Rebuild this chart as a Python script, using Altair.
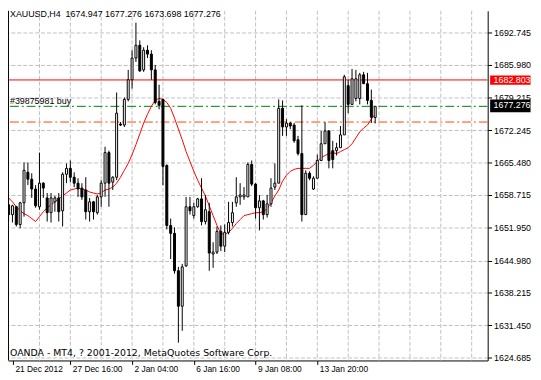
import altair as alt
import pandas as pd

# ---- data (XAUUSD H4 candles) ----
OPEN = [1656.66, 1654.60, 1656.25, 1652.54, 1657.07, 1663.46, 1662.02, 1659.96, 1656.25, 1661.19,
        1658.10, 1655.01, 1657.28, 1658.10, 1655.42, 1663.05, 1664.29, 1662.43, 1661.19, 1660.16,
        1659.75, 1655.21, 1657.28, 1655.01, 1658.31, 1661.19, 1667.59, 1661.40, 1662.43, 1673.57,
        1673.36, 1678.72, 1682.85, 1687.38, 1690.06, 1684.91, 1689.03, 1688.21, 1684.91, 1678.31,
        1678.72, 1664.91, 1652.33, 1650.68, 1642.85, 1635.42, 1643.87, 1656.25, 1654.39, 1656.25,
        1657.90, 1653.15, 1655.21, 1646.35, 1646.76, 1651.09, 1648.00, 1650.89, 1652.95, 1657.07,
        1658.31, 1658.31, 1658.31, 1665.11, 1660.99, 1656.04, 1657.48, 1654.60, 1656.86, 1660.37,
        1661.19, 1676.86, 1672.95, 1673.77, 1673.36, 1670.27, 1667.38, 1654.60, 1663.26, 1659.96,
        1662.22, 1665.94, 1669.44, 1672.12, 1668.00, 1668.00, 1668.62, 1671.30, 1681.61, 1677.69,
        1678.93, 1678.93, 1683.88, 1682.02, 1678.52, 1674.947]
HIGH = [1658.10, 1656.66, 1656.45, 1657.28, 1665.52, 1665.52, 1663.26, 1660.78, 1667.59, 1661.40,
        1659.13, 1659.13, 1658.51, 1659.13, 1663.46, 1665.31, 1665.94, 1663.46, 1662.22, 1661.19,
        1662.43, 1658.10, 1657.48, 1658.72, 1661.81, 1668.82, 1668.00, 1662.64, 1680.17, 1673.98,
        1679.13, 1684.91, 1689.03, 1694.81, 1691.09, 1689.65, 1690.06, 1689.03, 1685.94, 1681.81,
        1678.93, 1665.11, 1653.77, 1651.92, 1643.67, 1644.29, 1658.31, 1658.31, 1657.07, 1658.10,
        1662.22, 1658.72, 1657.07, 1648.82, 1652.12, 1652.33, 1652.54, 1657.28, 1657.28, 1662.43,
        1661.19, 1660.37, 1665.52, 1665.94, 1661.20, 1658.72, 1657.69, 1658.72, 1662.22, 1665.32,
        1678.72, 1678.52, 1674.60, 1673.98, 1673.77, 1671.09, 1677.49, 1663.88, 1663.67, 1662.64,
        1667.17, 1672.12, 1673.98, 1672.33, 1670.06, 1669.65, 1673.15, 1683.88, 1682.85, 1685.11,
        1684.91, 1684.29, 1684.50, 1684.29, 1680.78, 1677.276]
LOW = [1653.15, 1652.95, 1652.12, 1651.71, 1654.18, 1660.78, 1658.10, 1656.04, 1655.63, 1658.10,
       1653.15, 1652.95, 1655.21, 1653.15, 1652.12, 1661.19, 1661.40, 1660.37, 1658.31, 1657.69,
       1653.57, 1653.15, 1653.57, 1654.60, 1656.25, 1658.31, 1656.25, 1659.75, 1661.81, 1673.15,
       1672.95, 1678.31, 1680.99, 1686.56, 1684.50, 1684.50, 1687.38, 1682.85, 1677.69, 1676.66,
       1660.78, 1651.50, 1645.32, 1642.23, 1627.79, 1630.27, 1643.67, 1654.60, 1653.77, 1656.04,
       1652.33, 1652.54, 1642.85, 1643.46, 1646.35, 1646.97, 1646.76, 1650.47, 1652.12, 1656.25,
       1656.66, 1657.69, 1658.31, 1660.58, 1653.77, 1651.30, 1653.57, 1653.98, 1656.25, 1659.75,
       1661.19, 1671.09, 1671.09, 1672.50, 1669.65, 1666.97, 1653.15, 1654.60, 1661.81, 1659.75,
       1662.22, 1665.94, 1669.44, 1664.29, 1664.29, 1666.97, 1668.62, 1671.30, 1675.84, 1677.69,
       1678.31, 1677.69, 1682.02, 1677.69, 1673.77, 1673.698]
CLOSE = [1654.60, 1656.45, 1652.54, 1657.07, 1663.88, 1662.02, 1659.96, 1656.45, 1661.19, 1660.16,
         1655.01, 1658.10, 1658.10, 1655.21, 1663.05, 1664.29, 1662.43, 1661.19, 1659.96, 1658.31,
         1655.21, 1657.28, 1655.21, 1658.31, 1661.19, 1667.59, 1661.19, 1662.43, 1675.84, 1673.36,
         1678.72, 1682.85, 1687.38, 1690.06, 1684.70, 1689.03, 1688.21, 1684.91, 1678.10, 1677.49,
         1664.70, 1652.33, 1650.68, 1642.85, 1635.42, 1643.67, 1656.25, 1655.42, 1656.25, 1657.90,
         1653.15, 1655.63, 1646.55, 1646.76, 1651.09, 1648.00, 1650.89, 1652.95, 1655.01, 1658.31,
         1658.72, 1658.72, 1665.11, 1660.99, 1656.04, 1657.48, 1654.60, 1656.86, 1660.16, 1661.19,
         1676.86, 1672.95, 1673.77, 1673.15, 1670.06, 1667.38, 1654.60, 1663.26, 1662.22, 1662.22,
         1665.94, 1669.44, 1672.12, 1665.94, 1666.14, 1668.62, 1671.30, 1683.46, 1677.69, 1683.05,
         1683.05, 1683.88, 1682.02, 1678.52, 1675.01, 1677.276]
MA = [1658.10, 1657.28, 1656.25, 1655.42, 1654.80, 1654.39, 1653.77, 1653.15, 1654.18, 1655.21,
      1656.04, 1656.66, 1657.28, 1657.90, 1658.51, 1659.13, 1659.75, 1659.96, 1660.16, 1659.96,
      1659.75, 1659.34, 1659.13, 1658.93, 1659.13, 1659.75, 1659.96, 1660.37, 1661.19, 1662.43,
      1663.88, 1665.32, 1667.17, 1669.24, 1671.50, 1673.77, 1675.63, 1677.28, 1678.52, 1678.93,
      1678.72, 1678.10, 1676.86, 1674.80, 1672.53, 1670.27, 1667.80, 1665.73, 1663.67, 1661.81,
      1660.16, 1658.51, 1656.45, 1654.39, 1652.33, 1650.68, 1650.47, 1650.89, 1651.71, 1652.74,
      1653.57, 1654.39, 1654.60, 1654.80, 1655.01, 1655.01, 1655.21, 1655.83, 1657.07, 1658.51,
      1659.75, 1661.61, 1662.85, 1663.67, 1664.08, 1664.29, 1664.29, 1664.29, 1664.29, 1664.91,
      1665.73, 1666.55, 1666.97, 1667.38, 1667.59, 1667.38, 1667.80, 1668.21, 1668.62, 1669.44,
      1670.68, 1671.92, 1672.74, 1673.36, 1674.60, 1675.63]

TIME_TICK_BARS = [1.125, 16, 32, 48, 64, 80]
TIME_TICK_LABELS = ["21 Dec 2012", "27 Dec 16:00", "2 Jan 04:00", "6 Jan 16:00",
                    "9 Jan 08:00", "13 Jan 20:00"]
PRICE_TICKS = [1692.745, 1685.980, 1679.215, 1672.245, 1665.480, 1658.715,
               1651.950, 1644.980, 1638.215, 1631.450, 1624.685]

SYMBOL = "XAUUSD,H4"
RED_LEVEL = 1682.803
BID = 1677.276
ORDER_LEVEL = 1677.276
STOP_LEVEL = 1673.99
ORDER_LABEL = "#39875981 buy"
FOOTER = "OANDA - MT4, ? 2001-2012, MetaQuotes Software Corp."

# ---- layout ----
W, H = 487, 355
FONT = "Liberation Sans"
xscale = alt.Scale(domain=[1.125, 122.875], nice=False, zero=False)
yscale = alt.Scale(domain=[1624.066, 1697.282], nice=False, zero=False)

label_expr = " : ".join(f"datum.value == {v} ? '{l}'" for v, l in zip(TIME_TICK_BARS, TIME_TICK_LABELS)) + " : ''"

xaxis = alt.Axis(values=TIME_TICK_BARS, labelExpr=label_expr, labelAlign="left", labelOffset=2,
                 labelBaseline="top", labelPadding=0, tickSize=4, grid=False, title=None,
                 labelFlush=False, labelOverlap=False, domainColor="black", tickColor="black",
                 labelColor="black", labelFont=FONT, labelFontSize=8.5)
yaxis = alt.Axis(orient="right", values=PRICE_TICKS, format=".3f", tickSize=4, labelPadding=2,
                 grid=True, gridDash=[4, 2], gridColor="#c0c0c0", gridOpacity=1, title=None,
                 labelFlush=False, labelOverlap=False, labelAlign="left", labelBaseline="middle",
                 domainColor="black", tickColor="black", labelColor="black",
                 labelFont=FONT, labelFontSize=9)


def X(f):
    return alt.X(f"{f}:Q", scale=xscale, axis=xaxis)


def Y(f):
    return alt.Y(f"{f}:Q", scale=yscale, axis=yaxis)


n = len(OPEN)
df = pd.DataFrame({"bar": list(range(n)), "open": OPEN, "high": HIGH, "low": LOW,
                   "close": CLOSE, "ma": MA})
df["blo"] = df[["open", "close"]].min(axis=1)
df["bhi"] = df[["open", "close"]].max(axis=1)

grid_df = pd.DataFrame({"g": list(range(8, 121, 8))})
xgrid = alt.Chart(grid_df).mark_rule(color="#c0c0c0", strokeDash=[4, 2], strokeWidth=1).encode(x=X("g"))

def level(price, color, dash=None):
    kw = dict(color=color, strokeWidth=1, clip=True)
    if dash:
        kw["strokeDash"] = dash
    return alt.Chart(pd.DataFrame({"p": [price]})).mark_rule(**kw).encode(y=Y("p"))

red_line = level(RED_LEVEL, "#ff0000")
green_line = level(ORDER_LEVEL, "#008000", [9, 3, 2, 3])
orange_line = level(STOP_LEVEL, "#ff4500", [9, 3, 2, 3])

base = alt.Chart(df)
ma_line = base.mark_line(color="#ff0000", strokeWidth=1, clip=True).encode(x=X("bar"), y=Y("ma"))
wicks = base.mark_rule(color="black", strokeWidth=1, clip=True).encode(
    x=X("bar"), y=Y("low"), y2="high")
bodies = base.mark_bar(size=2, stroke="black", strokeWidth=1, clip=True).encode(
    x=X("bar"), y=Y("blo"), y2="bhi",
    fill=alt.condition("datum.close >= datum.open", alt.value("white"), alt.value("black")))

left_border = alt.Chart(pd.DataFrame({"a": [0]})).mark_rule(color="black", strokeWidth=1).encode(
    x=alt.value(0.5), y=alt.value(0), y2=alt.value(H))

title_txt = f"{SYMBOL}\u00a0\u00a0{OPEN[-1]:.3f} {HIGH[-1]:.3f} {LOW[-1]:.3f} {CLOSE[-1]:.3f}"
title = alt.Chart(pd.DataFrame({"t": [title_txt]})).mark_text(
    align="left", baseline="alphabetic", font=FONT, fontSize=9, color="black").encode(
    x=alt.value(2), y=alt.value(6.5), text="t:N")

order_txt = alt.Chart(pd.DataFrame({"p": [ORDER_LEVEL], "t": [ORDER_LABEL]})).mark_text(
    align="left", baseline="alphabetic", dy=-2, font=FONT, fontSize=9, color="black").encode(
    x=alt.value(2), y=Y("p"), text="t:N")

footer = alt.Chart(pd.DataFrame({"t": [FOOTER]})).mark_text(
    align="left", baseline="alphabetic", font="DejaVu Sans", fontSize=9.5, color="black").encode(
    x=alt.value(2), y=alt.value(350), text="t:N")

def price_box(price, color, up, down, dy):
    d = pd.DataFrame({"p": [price], "t": [f"{price:.3f}"]})
    box = alt.Chart(d).mark_rect(color=color, yOffset=-up, y2Offset=down).encode(
        x=alt.value(489.5), x2=alt.value(530.5), y=Y("p"), y2="p")
    txt = alt.Chart(d).mark_text(align="left", baseline="middle", dy=dy, font=FONT,
                                 fontSize=9, color="white").encode(
        x=alt.value(493), y=Y("p"), text="t:N")
    return box + txt

red_box = price_box(RED_LEVEL, "#ff0000", 4.5, 5, 0)
bid_box = price_box(BID, "#000000", 7, 6, -1)

chart = alt.layer(
    xgrid, red_line, green_line, orange_line, ma_line, wicks, bodies, left_border,
    title, order_txt, footer, red_box, bid_box
).properties(
    width=W, height=H,
    autosize=alt.AutoSizeParams(type="none"),
    padding={"left": 0, "top": 0, "right": 46, "bottom": 17},
    background="white",
).configure_view(stroke=None)

chart.save("out.html", embed_options={"renderer": "svg", "actions": False})
